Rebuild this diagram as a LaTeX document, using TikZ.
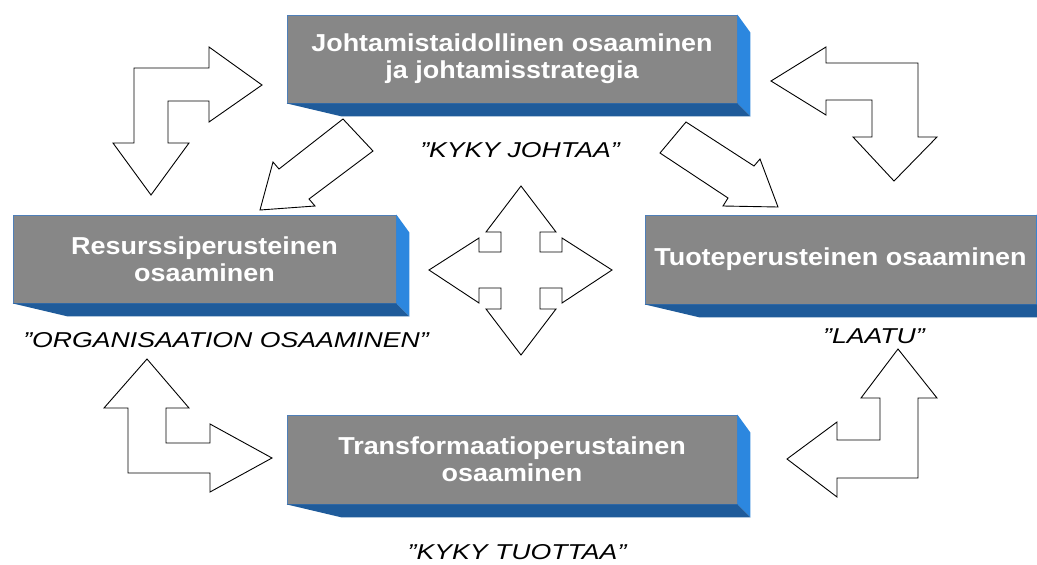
\documentclass[tikz,border=0pt]{standalone}
\usepackage{fontspec}
\setmainfont{Liberation Sans}
\newfontfamily\facefont[FakeStretch=1.1]{Liberation Sans}
\newfontfamily\tagfont[FakeStretch=1.24]{Liberation Sans}
\usetikzlibrary{calc}

\definecolor{faceGrey}{HTML}{878787}
\definecolor{rimBlue}{HTML}{4F7FB8}
\definecolor{baseBlue}{HTML}{1F5B9A}
\definecolor{sideBlue}{HTML}{2C87DF}

% right side and bottom band of a slab
\newcommand\slabsides[1]{%
  \fill[sideBlue] (#1.north east) -- ($(#1.north east)+(13,18)$)
    -- ($(#1.south east)+(13,13)$) -- (#1.south east) -- cycle;
  \fill[baseBlue] (#1.south west) -- (#1.south east)
    -- ($(#1.south east)+(13,13)$) -- ($(#1.south west)+(55,13)$) -- cycle;
}

\begin{document}
\begin{tikzpicture}[x=1pt,y=-1pt,
  face/.style={draw=rimBlue, line width=0.8pt, fill=faceGrey, text=white,
    inner sep=0pt, minimum width=450pt, minimum height=88pt, align=center,
    font=\facefont\bfseries\fontsize{24.5}{27}\selectfont},
  tag/.style={inner sep=0pt, font=\tagfont\itshape\fontsize{21.5}{24}\selectfont},
  blockarrow/.style={draw=black, fill=white, line width=0.9pt, line join=miter}]
\useasboundingbox (0,0) rectangle (1037,565);
\fill[white] (0,0) rectangle (1037,565);

% slabs
\node[face] (lead) at (512,59) {Johtamistaidollinen osaaminen\\ja johtamisstrategia};
\node[face, minimum width=383pt] (res) at (204.5,259) {Resurssiperusteinen\\osaaminen};
\node[face, minimum width=391pt, minimum height=89pt] (prod) at (840.5,259.5) {Tuoteperusteinen osaaminen};
\node[face, minimum height=89pt] (trans) at (512,459.5) {Transformaatioperustainen\\osaaminen};
\slabsides{lead}
\slabsides{res}
\slabsides{prod}
\slabsides{trans}

% captions
\node[tag] (tlead) at (520,150) {”KYKY JOHTAA”};
\node[tag] (tres) at (226,340) {”ORGANISAATION OSAAMINEN”};
\node[tag] (tprod) at (874,336) {”LAATU”};
\node[tag] (ttrans) at (517,552) {”KYKY TUOTTAA”};

% bent two-way arrows
\draw[blockarrow] (262,85) -- (209,47) -- (209,68) -- (134,68) -- (134,143) -- (113,143)
  -- (151,195) -- (189,143) -- (168,143) -- (168,101) -- (209,101) -- (209,122) -- cycle;
\draw[blockarrow] (771,81) -- (826,47) -- (826,63) -- (918,63) -- (918,137) -- (937,137)
  -- (894,181) -- (853,137) -- (872,137) -- (872,100) -- (826,100) -- (826,115) -- cycle;
\draw[blockarrow] (147,359) -- (189,408) -- (166,408) -- (166,443) -- (210,443) -- (210,424)
  -- (272,458) -- (210,492) -- (210,473) -- (128,473) -- (128,408) -- (104,408) -- cycle;
\draw[blockarrow] (898,349) -- (937,398) -- (918,398) -- (918,478) -- (837,478) -- (837,497)
  -- (787,459) -- (837,422) -- (837,440) -- (880,440) -- (880,398) -- (861,398) -- cycle;

% diagonal arrows
\draw[blockarrow] (343,119) -- (373,151) -- (309,199) -- (315,206) -- (260,210)
  -- (273,162) -- (279,169) -- cycle;
\draw[blockarrow] (660,153) -- (686,122) -- (754,166) -- (760,159) -- (778,207)
  -- (723,206) -- (728,198) -- cycle;

% four-way arrow
\draw[blockarrow] (521,186) -- (556,232) -- (540,232) -- (540,252) -- (562,252) -- (562,238)
  -- (612,270) -- (562,303) -- (562,288) -- (540,288) -- (540,309) -- (556,309)
  -- (521,355) -- (486,309) -- (501,309) -- (501,288) -- (479,288) -- (479,303)
  -- (429,270) -- (479,238) -- (479,252) -- (501,252) -- (501,232) -- (486,232) -- cycle;
\end{tikzpicture}
\end{document}
